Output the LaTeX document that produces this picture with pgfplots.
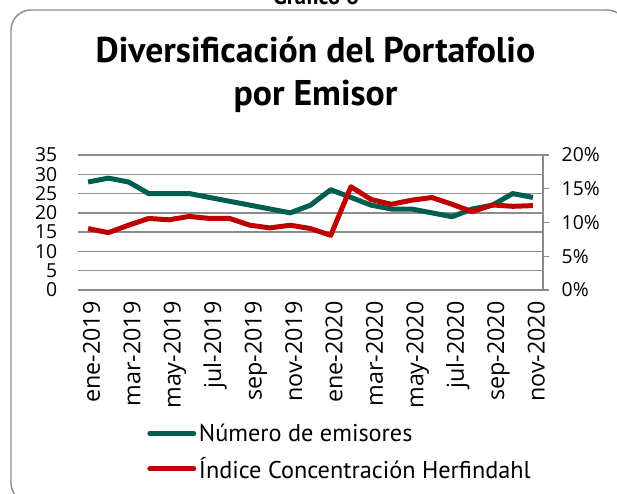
\documentclass[border=0pt]{standalone}
\usepackage{pgfplots}
\pgfplotsset{compat=1.18}
\usepackage{fontspec}
\setmainfont{PT Sans}
\newfontfamily\tickfont{Open Sans}
\definecolor{cgreen}{RGB}{0,94,80}
\definecolor{cred}{RGB}{192,0,0}
\definecolor{cgrid}{RGB}{140,140,140}
\begin{document}
\begin{tikzpicture}
\useasboundingbox (0,0) rectangle (462.75pt,369.75pt);
\clip (0,0) rectangle (462.75pt,369.75pt);
\draw[cgrid, line width=1.1pt, rounded corners=15pt] (8.25pt,362.25pt) rectangle (470.25pt,-7.5pt);
\node[anchor=base, font=\fontsize{17}{17}\selectfont\bfseries] at (237pt,366pt) {Gráfico 6};
\node[anchor=base, font=\fontsize{26.8}{26.8}\selectfont\bfseries] at (236.6pt,322.5pt) {Diversificación del Portafolio};
\node[anchor=base, font=\fontsize{26.8}{26.8}\selectfont\bfseries] at (236.6pt,290.25pt) {por Emisor};
\begin{axis}[
  scale only axis, width=348.75pt, height=101.25pt,
  at={(58.5pt,152.25pt)}, anchor=south west,
  xmin=-0.5, xmax=22.5, ymin=0, ymax=35,
  axis line style={draw=none},
  ytick={0,5,...,35}, ymajorgrids,
  grid style={cgrid, line width=1.1pt},
  major tick length=0pt,
  /pgf/number format/assume math mode=true,
  yticklabel style={font=\tickfont\fontsize{14.5}{14.5}\selectfont, anchor=east, xshift=-12pt},
  xtick={0,2,...,22},
  xticklabels={ene-2019,mar-2019,may-2019,jul-2019,sep-2019,nov-2019,ene-2020,mar-2020,may-2020,jul-2020,sep-2020,nov-2020},
  xticklabel style={font=\tickfont\fontsize{17.5}{17.5}\selectfont, rotate=90, anchor=mid east, xshift=-5pt, yshift=-6.3pt},
]
\addplot[cgreen, line width=3.75pt, line join=round] coordinates {
(0,28)(1,29)(2,28)(3,25)(4,25)(5,25)(6,24)(7,23)(8,22)(9,21)(10,20)(11,22)
(12,26)(13,24)(14,22)(15,21)(16,21)(17,20)(18,19)(19,21)(20,22)(21,25)(22,24)};
\end{axis}
\begin{axis}[
  scale only axis, width=348.75pt, height=101.25pt,
  at={(58.5pt,152.25pt)}, anchor=south west,
  xmin=-0.5, xmax=22.5, ymin=0, ymax=20,
  axis x line=none,
  axis y line*=right,
  y axis line style={cgrid, line width=1.1pt, -},
  ytick={0,5,...,20},
  yticklabel={\pgfmathprintnumber{\tick}\%},
  tick align=outside,
  major tick length=4.5pt,
  ytick style={cgrid, line width=1.1pt},
  /pgf/number format/assume math mode=true,
  yticklabel style={font=\tickfont\fontsize{14.5}{14.5}\selectfont, anchor=west, xshift=6pt},
  legend style={draw=none, fill=none, at={(0.1484,-0.97)}, anchor=north west,
    font=\fontsize{18.2}{18.2}\selectfont, row sep=6.5pt, inner sep=0pt,
    cells={anchor=west}},
  legend image code/.code={\draw[#1, line width=3.75pt, line cap=round] (0pt,0pt) -- (33pt,0pt);},
]
\addlegendimage{cgreen}
\addlegendentry{Número de emisores}
\addplot[cred, line width=3.75pt, line join=round] coordinates {
(0,9.1)(1,8.5)(2,9.6)(3,10.6)(4,10.4)(5,10.9)(6,10.6)(7,10.6)(8,9.6)(9,9.2)(10,9.6)(11,9.1)
(12,8.1)(13,15.3)(14,13.4)(15,12.7)(16,13.3)(17,13.7)(18,12.7)(19,11.6)(20,12.6)(21,12.4)(22,12.5)};
\addlegendentry{Índice Concentración Herfindahl}
\end{axis}
\end{tikzpicture}
\end{document}
